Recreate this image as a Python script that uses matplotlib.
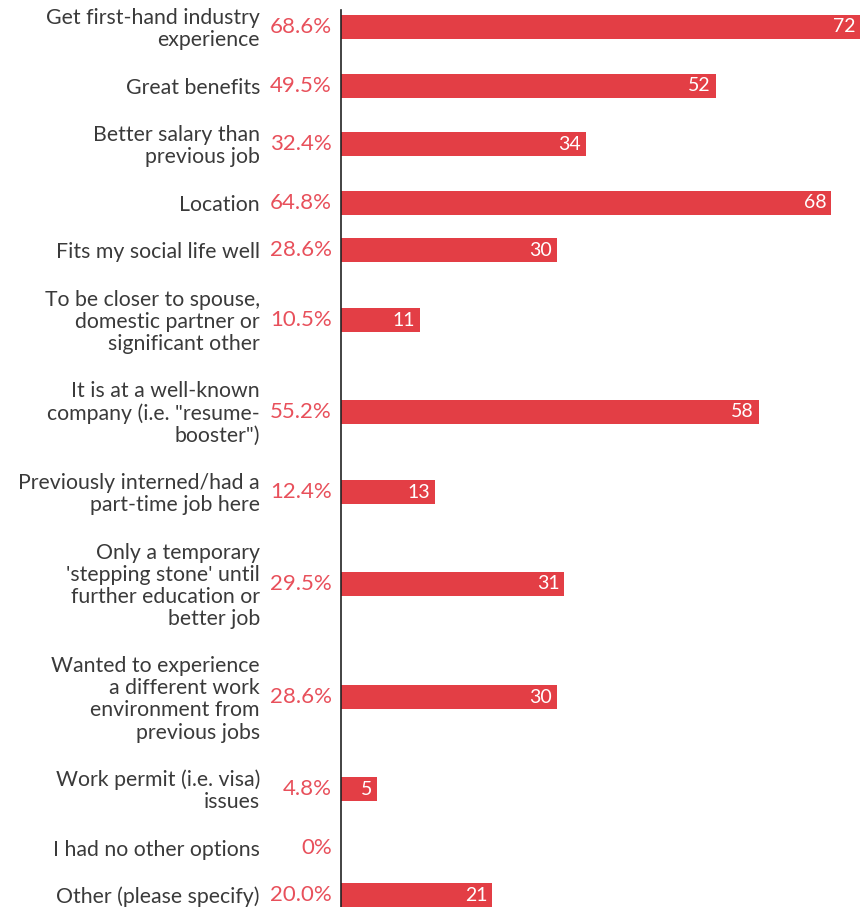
import numpy as np
import matplotlib
matplotlib.use('Agg')
import matplotlib.pyplot as plt

matplotlib.rcParams['font.family'] = ['Lato', 'DejaVu Sans']

# ── data ──────────────────────────────────────────────
labels = [
    "Get first-hand industry\nexperience",
    "Great benefits",
    "Better salary than\nprevious job",
    "Location",
    "Fits my social life well",
    "To be closer to spouse,\ndomestic partner or\nsignificant other",
    "It is at a well-known\ncompany (i.e. \"resume-\nbooster\")",
    "Previously interned/had a\npart-time job here",
    "Only a temporary\n'stepping stone' until\nfurther education or\nbetter job",
    "Wanted to experience\na different work\nenvironment from\nprevious jobs",
    "Work permit (i.e. visa)\nissues",
    "I had no other options",
    "Other (please specify)",
]
counts = [72, 52, 34, 68, 30, 11, 58, 13, 31, 30, 5, 0, 21]
percents = ["68.6%", "49.5%", "32.4%", "64.8%", "28.6%", "10.5%", "55.2%",
            "12.4%", "29.5%", "28.6%", "4.8%", "0%", "20.0%"]

BAR_COLOR = '#e33e45'
PCT_COLOR = '#e8505b'
TEXT_COLOR = '#3a3a3a'

# row height grows with the number of label lines
n_lines = np.array([l.count('\n') + 1 for l in labels])
row_h = 25.6 + 22 * n_lines
centers = np.concatenate([[0], np.cumsum((row_h[:-1] + row_h[1:]) / 2)])

fig = plt.figure(figsize=(8.6, 9.07), dpi=100)
ax = fig.add_axes([341 / 860, 0, 1 - 341 / 860, 1 - 10 / 907])

ax.barh(centers, counts, height=24, color=BAR_COLOR, lw=0)
ax.set_xlim(0, 72)
ax.set_ylim(centers[0] + 880, centers[0] - 17)

for spine in ['top', 'right', 'bottom']:
    ax.spines[spine].set_visible(False)
ax.spines['left'].set_color('#222222')
ax.spines['left'].set_linewidth(1.2)
ax.set_xticks([])
ax.set_yticks([])

for y, lab, pct, n in zip(centers, labels, percents, counts):
    ax.annotate(lab, xy=(0, y), xycoords='data', xytext=(-81, -2),
                textcoords='offset pixels', ha='right', va='center',
                fontsize=15.3, color=TEXT_COLOR, linespacing=1.13)
    ax.annotate(pct, xy=(0, y), xycoords='data', xytext=(-9, 0),
                textcoords='offset pixels', ha='right', va='center',
                fontsize=16, color=PCT_COLOR)
    if n > 0:
        ax.annotate(str(n), xy=(n, y), xycoords='data', xytext=(-5, 0),
                    textcoords='offset pixels', ha='right', va='center',
                    fontsize=14, color='white')

fig.savefig('out.png', dpi=100, facecolor='white')
